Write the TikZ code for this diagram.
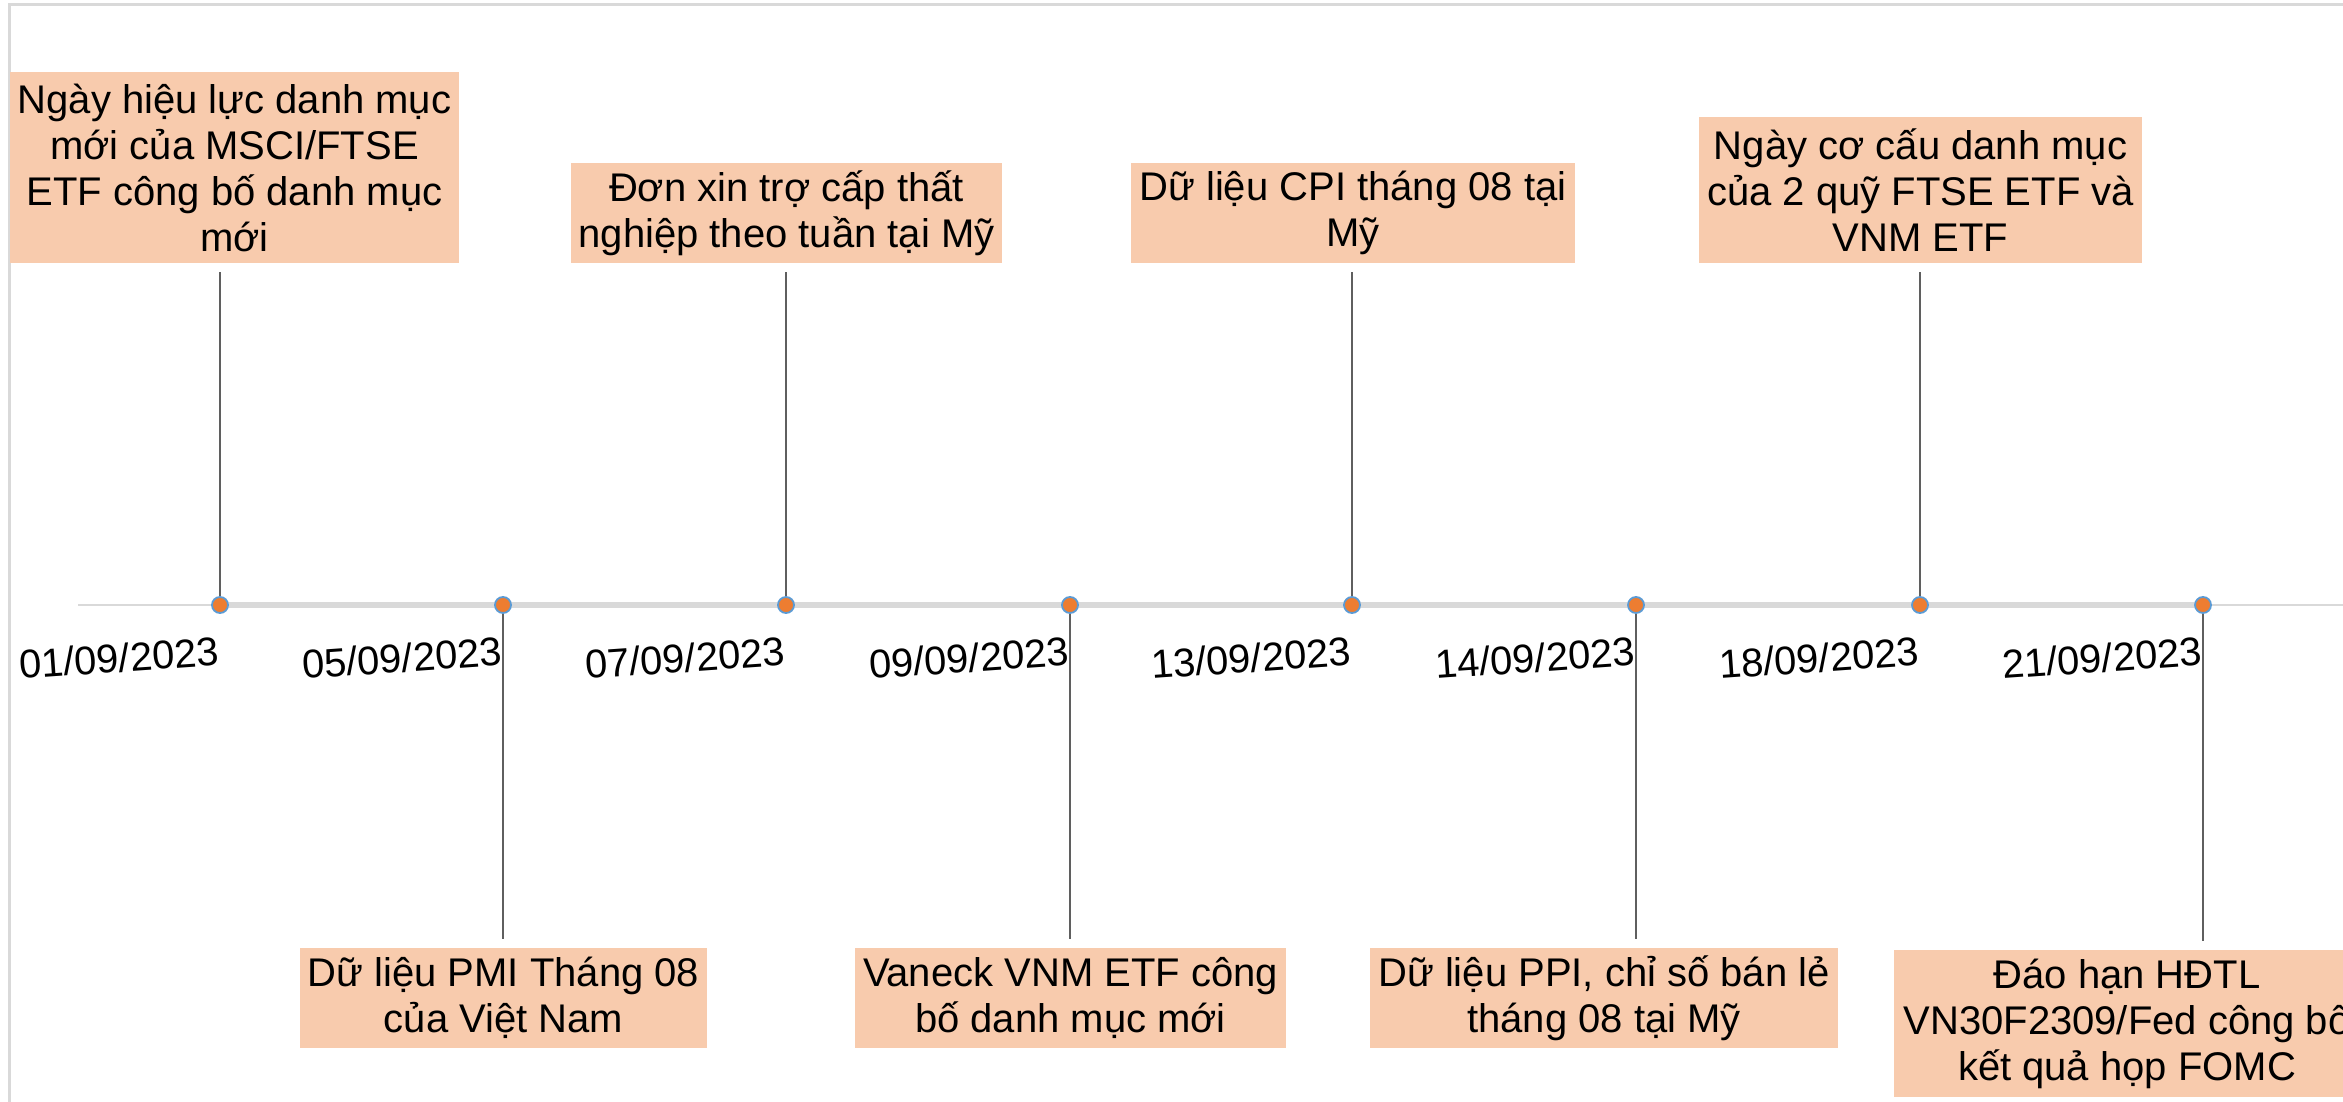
\documentclass[tikz,border=0pt]{standalone}
\usepackage{fontspec}
\setmainfont{Liberation Sans}
\definecolor{boxfill}{HTML}{F8CBAD}
\definecolor{dotfill}{HTML}{ED7D31}
\definecolor{dotring}{HTML}{5B9BD5}
\definecolor{axisgray}{HTML}{D9D9D9}
\definecolor{stemgray}{HTML}{5F5F5F}
\tikzset{
  evbox/.style={rectangle, fill=boxfill, inner sep=0pt, align=center,
    font=\fontsize{40}{46}\selectfont},
  datelbl/.style={anchor=base east, rotate=4, inner sep=0pt,
    font=\fontsize{40}{46}\selectfont},
  stem/.style={draw=stemgray, line width=2pt, shorten >=9pt},
  evdot/.style={circle, fill=dotfill, draw=dotring, line width=1.8pt,
    minimum size=16pt, inner sep=0pt},
  frameline/.style={draw=axisgray, line width=3pt}
}
\begin{document}
\begin{tikzpicture}[x=1pt,y=-1pt]
\path[use as bounding box, clip] (0,0) rectangle (2343,1102);
\fill[white] (0,0) rectangle (2343,1102);
% frame
\draw[frameline] (2343,5) -- (9,5) -- (9,1102);
% timeline positions
\coordinate (axstart) at (78,605);
\coordinate (axend) at (2343,605);
\coordinate (p1) at (220,605);
\coordinate (p2) at (503,605);
\coordinate (p3) at (786,605);
\coordinate (p4) at (1070,605);
\coordinate (p5) at (1352,605);
\coordinate (p6) at (1636,605);
\coordinate (p7) at (1920,605);
\coordinate (p8) at (2203,605);
\draw[axisgray, line width=2pt] (axstart) -- (axend);
\draw[axisgray, line width=6pt] (p1) -- (p8);
% boxes
\node[evbox, minimum width=449pt, minimum height=191pt] (b1) at (234.5,167.5)
  {Ngày hiệu lực danh mục\\mới của MSCI/FTSE\\ETF công bố danh mục\\mới};
\node[evbox, minimum width=431pt, minimum height=100pt] (b3) at (786.5,213)
  {Đơn xin trợ cấp thất\\nghiệp theo tuần tại Mỹ};
\node[evbox, minimum width=444pt, minimum height=100pt] (b5) at (1353,213)
  {Dữ liệu CPI tháng 08 tại\\Mỹ};
\node[evbox, minimum width=443pt, minimum height=146pt] (b7) at (1920.5,190)
  {Ngày cơ cấu danh mục\\của 2 quỹ FTSE ETF và\\VNM ETF};
\node[evbox, minimum width=407pt, minimum height=100pt] (b2) at (503.5,998)
  {Dữ liệu PMI Tháng 08\\của Việt Nam};
\node[evbox, minimum width=431pt, minimum height=100pt] (b4) at (1070.5,998)
  {Vaneck VNM ETF công\\bố danh mục mới};
\node[evbox, minimum width=468pt, minimum height=100pt] (b6) at (1604,998)
  {Dữ liệu PPI, chỉ số bán lẻ\\tháng 08 tại Mỹ};
\node[evbox, minimum width=466pt, minimum height=147pt] (b8) at (2127,1023.5)
  {Đáo hạn HĐTL\\VN30F2309/Fed công bố\\kết quả họp FOMC};
% stems
\foreach \i in {1,3,5,7} {
  \draw[stem] (p\i) -- (p\i |- b\i.south);
}
\foreach \i in {2,4,6,8} {
  \draw[stem] (p\i) -- (p\i |- b\i.north);
}
% dots
\foreach \i in {1,...,8} {
  \node[evdot] (d\i) at (p\i) {};
}
% dates
\node[datelbl] (t1) at (220,665) {01/09/2023};
\node[datelbl] (t2) at (503,665) {05/09/2023};
\node[datelbl] (t3) at (786,665) {07/09/2023};
\node[datelbl] (t4) at (1070,665) {09/09/2023};
\node[datelbl] (t5) at (1352,665) {13/09/2023};
\node[datelbl] (t6) at (1636,665) {14/09/2023};
\node[datelbl] (t7) at (1920,665) {18/09/2023};
\node[datelbl] (t8) at (2203,665) {21/09/2023};
\end{tikzpicture}
\end{document}
